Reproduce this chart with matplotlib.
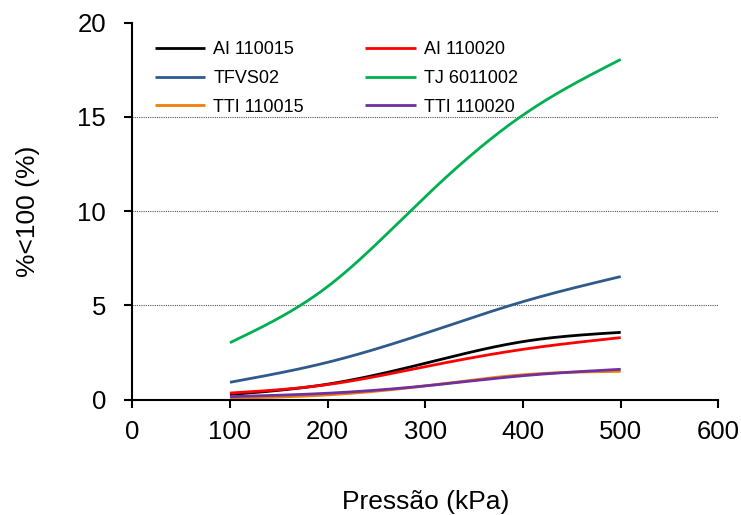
import numpy as np
import matplotlib
matplotlib.use("Agg")
import matplotlib.pyplot as plt

plt.rcParams["font.family"] = ["Liberation Sans", "DejaVu Sans"]

pressure = [100, 200, 300, 400, 500]
series_names = ["AI 110015", "AI 110020", "TFVS02", "TJ 6011002", "TTI 110015", "TTI 110020"]
ai_110015 = [0.27, 0.82, 1.93, 3.08, 3.57]
ai_110020 = [0.35, 0.80, 1.75, 2.67, 3.29]
tfvs02 = [0.92, 1.98, 3.52, 5.20, 6.53]
tj_6011002 = [3.02, 6.00, 10.77, 15.10, 18.05]
tti_110015 = [0.07, 0.25, 0.73, 1.32, 1.50]
tti_110020 = [0.16, 0.34, 0.73, 1.27, 1.61]
series_values = [ai_110015, ai_110020, tfvs02, tj_6011002, tti_110015, tti_110020]
colors = ["#000000", "#FF0000", "#2E5A8E", "#00B050", "#F07F09", "#7030A0"]


def smooth(xs, ys, n=200):
    # natural cubic spline through the points (smoothed line look)
    x = np.asarray(xs, float)
    y = np.asarray(ys, float)
    k = len(x)
    h = np.diff(x)
    A = np.zeros((k, k))
    b = np.zeros(k)
    A[0, 0] = A[-1, -1] = 1
    for i in range(1, k - 1):
        A[i, i - 1] = h[i - 1]
        A[i, i] = 2 * (h[i - 1] + h[i])
        A[i, i + 1] = h[i]
        b[i] = 6 * ((y[i + 1] - y[i]) / h[i] - (y[i] - y[i - 1]) / h[i - 1])
    m = np.linalg.solve(A, b)
    xx = np.linspace(x[0], x[-1], n)
    idx = np.clip(np.searchsorted(x, xx) - 1, 0, k - 2)
    t = xx - x[idx]
    hi = h[idx]
    a = (m[idx + 1] - m[idx]) / (6 * hi)
    c = (y[idx + 1] - y[idx]) / hi - hi * (2 * m[idx] + m[idx + 1]) / 6
    yy = y[idx] + c * t + m[idx] / 2 * t ** 2 + a * t ** 3
    return xx, yy


fig = plt.figure(figsize=(7.41, 5.15), dpi=100)
ax = fig.add_axes([0.1785, 0.224, 0.791, 0.732])

handles = []
for name, vals, c in zip(series_names, series_values, colors):
    sx, sy = smooth(pressure, vals)
    h, = ax.plot(sx, sy, color=c, lw=2, label=name, solid_capstyle="butt")
    handles.append(h)

ax.set_xlim(0, 600)
ax.set_ylim(0, 20)
ax.set_xticks(range(0, 601, 100))
ax.set_yticks(range(0, 21, 5))
for yv in [5, 10, 15]:
    ax.axhline(yv, color="#555555", lw=0.8, ls=(0, (1, 1)), zorder=0)

for side in ["top", "right"]:
    ax.spines[side].set_visible(False)
for side in ["left", "bottom"]:
    ax.spines[side].set_linewidth(1.5)
ax.tick_params(direction="out", length=6, width=1.5, labelsize=18.5)
ax.tick_params(axis="x", pad=9)
ax.tick_params(axis="y", pad=13)

ax.set_xlabel("Pressão (kPa)", fontsize=19, labelpad=33)
ax.set_ylabel("%<100 (%)", fontsize=19, labelpad=27)

order = [0, 2, 4, 1, 3, 5]
ax.legend([handles[i] for i in order], [series_names[i] for i in order],
          ncol=2, frameon=False, fontsize=13, loc="upper left",
          bbox_to_anchor=(0.0165, 0.985), handlelength=2.8, handletextpad=0.45,
          columnspacing=3.4, labelspacing=0.66, borderpad=0.2)

fig.savefig("out.png", dpi=100)
